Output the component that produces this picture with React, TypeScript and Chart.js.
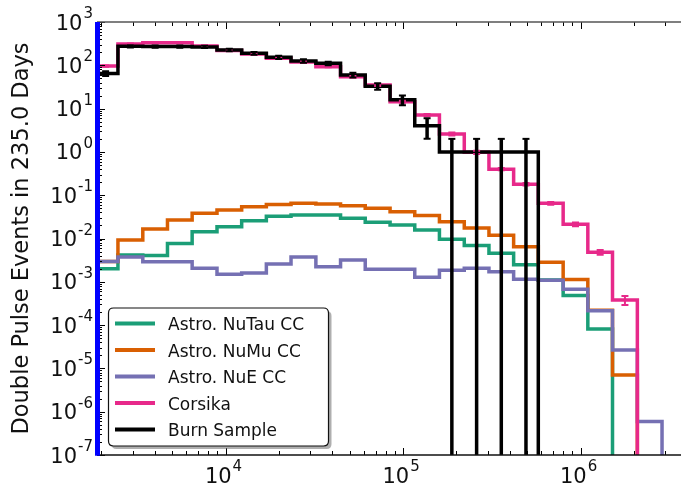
import { useEffect, useRef } from "react";
import { Chart, registerables } from "chart.js";

Chart.register(...registerables);

const FONT = "'DejaVu Sans', 'Liberation Sans', sans-serif";

// log10 of the histogram bin edges in reconstructed energy (GeV)
const BIN_EDGES_LOG10 = [
  3.255, 3.394, 3.534, 3.673, 3.812, 3.952, 4.091, 4.23, 4.369, 4.509, 4.648, 4.787, 4.927,
  5.066, 5.205, 5.345, 5.484, 5.623, 5.762, 5.902, 6.041, 6.18, 6.32, 6.459, 6.598,
];

// axis ranges
const X_MIN = 1888;
const X_MAX = 3.68e6;
const Y_MIN = 1e-7;
const Y_MAX = 1e3;
const Y_DECADES = [-7, -6, -5, -4, -3, -2, -1, 0, 1, 2, 3];
const X_DECADES = [4, 5, 6];

// expected / observed events per bin, starting at the first bin edge
const NUTAU_CC = [
  2.0e-3, 4.15e-3, 4.05e-3, 7.7e-3, 0.0144, 0.0187, 0.0258, 0.0326, 0.0349, 0.035, 0.0292,
  0.0237, 0.0205, 0.0157, 0.0096, 0.0069, 0.00455, 0.00248, 0.0011, 4.8e-4, 8.1e-5,
];
const NUMU_CC = [
  2.94e-3, 9.2e-3, 0.0166, 0.0267, 0.0382, 0.0455, 0.0542, 0.061, 0.065, 0.0627, 0.0573,
  0.0498, 0.0416, 0.034, 0.0244, 0.0175, 0.0119, 0.00647, 0.00282, 0.00113, 2.2e-4, 7.0e-6,
];
const NUE_CC = [
  2.95e-3, 3.74e-3, 2.91e-3, 2.91e-3, 2.05e-3, 1.49e-3, 1.6e-3, 2.58e-3, 3.74e-3, 2.23e-3,
  3.18e-3, 1.95e-3, 1.95e-3, 1.27e-3, 1.84e-3, 2.05e-3, 1.71e-3, 1.15e-3, 1.08e-3, 6.7e-4,
  2.15e-4, 2.66e-5, 5.9e-7,
];
const CORSIKA = [
  96, 310, 333, 333, 280, 220, 182, 145, 119, 93, 54.5, 35, 14.4, 7.1, 2.59, 0.98, 0.4, 0.179,
  0.065, 0.0213, 0.0048, 3.8e-4,
];
const CORSIKA_ERR = [
  3, 9, 9, 9, 8, 6.5, 5.5, 4.5, 3.8, 3.2, 2.2, 1.6, 0.8, 0.45, 0.2, 0.08, 0.025, 0.012, 0.005,
  0.002, 0.0006, 9e-5,
];
const BURN_SAMPLE = [65, 275, 272, 270, 266, 225, 189, 153, 126, 111, 60, 33, 16, 4, 1, 1, 1, 1];
const BURN_SAMPLE_ERR = [
  8.1, 16.6, 16.5, 16.4, 16.3, 15.0, 13.7, 12.4, 11.2, 10.5, 7.7, 5.7, 4.0, 2.0, 1, 1, 1, 1,
];

const SERIES = [
  { label: "Astro. NuTau CC", values: NUTAU_CC, color: "#1b9e77", order: 5 },
  { label: "Astro. NuMu CC", values: NUMU_CC, color: "#d95f02", order: 4 },
  { label: "Astro. NuE CC", values: NUE_CC, color: "#7570b3", order: 3 },
  { label: "Corsika", values: CORSIKA, color: "#e7298a", order: 2 },
  { label: "Burn Sample", values: BURN_SAMPLE, color: "#000000", order: 1 },
];

// step outline of a histogram, dropping to the baseline at both ends
function stepPoints(values: number[]) {
  const pts: { x: number; y: number }[] = [];
  const n = values.length;
  pts.push({ x: 10 ** BIN_EDGES_LOG10[0], y: Y_MIN });
  for (let i = 0; i < n; i++) pts.push({ x: 10 ** BIN_EDGES_LOG10[i], y: values[i] });
  pts.push({ x: 10 ** BIN_EDGES_LOG10[n], y: values[n - 1] });
  pts.push({ x: 10 ** BIN_EDGES_LOG10[n], y: Y_MIN });
  return pts;
}

function drawPower(
  ctx: CanvasRenderingContext2D,
  exp: number,
  x: number,
  baseline: number,
  align: "right" | "center"
) {
  const main = "10";
  const sup = exp < 0 ? "-" + Math.abs(exp) : String(exp);
  const mainFont = `21px ${FONT}`;
  const supFont = `15px ${FONT}`;
  ctx.font = mainFont;
  const wm = ctx.measureText(main).width;
  ctx.font = supFont;
  const ws = ctx.measureText(sup).width;
  const total = wm + 1 + ws;
  const left = align === "right" ? x - total : x - total / 2 - 2;
  ctx.textAlign = "left";
  ctx.textBaseline = "alphabetic";
  ctx.fillStyle = "#111";
  ctx.font = mainFont;
  ctx.fillText(main, left, baseline);
  ctx.font = supFont;
  ctx.fillText(sup, left + wm + 1, baseline - 11.5);
}

const framePlugin = {
  id: "frame",
  afterDatasetsDraw(chart: any) {
    const { ctx, chartArea: a } = chart;
    const xs = chart.scales.x;
    const ys = chart.scales.y;
    ctx.save();
    ctx.beginPath();
    ctx.rect(a.left, a.top, a.right - a.left, a.bottom - a.top);
    ctx.clip();
    const drawErrors = (vals: number[], errs: number[], color: string, width: number) => {
      ctx.strokeStyle = color;
      vals.forEach((v, i) => {
        const xc = xs.getPixelForValue(10 ** ((BIN_EDGES_LOG10[i] + BIN_EDGES_LOG10[i + 1]) / 2));
        const hi = ys.getPixelForValue(v + errs[i]);
        const lowVal = v - errs[i];
        const lo = lowVal > 0 ? ys.getPixelForValue(lowVal) : a.bottom + 4;
        ctx.lineWidth = width;
        ctx.beginPath();
        ctx.moveTo(xc, hi);
        ctx.lineTo(xc, lo);
        ctx.stroke();
        ctx.lineWidth = 2;
        ctx.beginPath();
        ctx.moveTo(xc - 3.5, hi);
        ctx.lineTo(xc + 3.5, hi);
        if (lowVal > 0) {
          ctx.moveTo(xc - 3.5, lo);
          ctx.lineTo(xc + 3.5, lo);
        }
        ctx.stroke();
      });
    };
    drawErrors(CORSIKA, CORSIKA_ERR, "#e7298a", 2);
    drawErrors(BURN_SAMPLE, BURN_SAMPLE_ERR, "#000", 3.5);
    ctx.restore();
  },
  afterDraw(chart: any) {
    const { ctx, chartArea: a } = chart;
    const xs = chart.scales.x;
    const ys = chart.scales.y;
    ctx.save();

    // inward tick marks
    ctx.strokeStyle = "#000";
    ctx.lineWidth = 1;
    ctx.beginPath();
    for (let p = -7; p <= 3; p++) {
      for (let m = 1; m <= 9; m++) {
        const v = m * 10 ** p;
        if (v < Y_MIN * 0.999 || v > Y_MAX * 1.001) continue;
        const py = Math.round(ys.getPixelForValue(v)) + 0.5;
        const len = m === 1 ? 8 : 5;
        ctx.moveTo(a.left, py);
        ctx.lineTo(a.left + len, py);
      }
    }
    for (let p = 3; p <= 6; p++) {
      for (let m = 1; m <= 9; m++) {
        const v = m * 10 ** p;
        if (v < X_MIN || v > X_MAX) continue;
        const px = Math.round(xs.getPixelForValue(v)) + 0.5;
        const len = m === 1 ? 7 : 4;
        ctx.moveTo(px, a.bottom);
        ctx.lineTo(px, a.bottom - len);
        ctx.moveTo(px, a.top);
        ctx.lineTo(px, a.top + len);
      }
    }
    ctx.stroke();

    // spines
    ctx.lineWidth = 1.5;
    ctx.strokeStyle = "#555";
    ctx.beginPath();
    ctx.moveTo(a.left, a.top);
    ctx.lineTo(a.right, a.top);
    ctx.stroke();
    ctx.strokeStyle = "#111";
    ctx.beginPath();
    ctx.moveTo(a.left, a.bottom);
    ctx.lineTo(a.right, a.bottom);
    ctx.stroke();
    ctx.strokeStyle = "#0000ff";
    ctx.lineWidth = 5;
    ctx.beginPath();
    ctx.moveTo(a.left + 0.5, a.top);
    ctx.lineTo(a.left + 0.5, a.bottom + 0.75);
    ctx.stroke();

    // tick labels
    Y_DECADES.forEach((p) => {
      const py = ys.getPixelForValue(10 ** p);
      drawPower(ctx, p, a.left - 4, py + 7.5, "right");
    });
    X_DECADES.forEach((p) => {
      const px = xs.getPixelForValue(10 ** p);
      drawPower(ctx, p, px, a.bottom + 27.5, "center");
    });

    // legend
    const box = { x: 108.5, y: 308, w: 220, h: 138 };
    const r = 5;
    const roundRect = (x: number, y: number) => {
      ctx.beginPath();
      ctx.moveTo(x + r, y);
      ctx.lineTo(x + box.w - r, y);
      ctx.quadraticCurveTo(x + box.w, y, x + box.w, y + r);
      ctx.lineTo(x + box.w, y + box.h - r);
      ctx.quadraticCurveTo(x + box.w, y + box.h, x + box.w - r, y + box.h);
      ctx.lineTo(x + r, y + box.h);
      ctx.quadraticCurveTo(x, y + box.h, x, y + box.h - r);
      ctx.lineTo(x, y + r);
      ctx.quadraticCurveTo(x, y, x + r, y);
      ctx.closePath();
    };
    roundRect(box.x + 3, box.y + 3);
    ctx.fillStyle = "rgba(110,110,110,0.55)";
    ctx.fill();
    roundRect(box.x, box.y);
    ctx.fillStyle = "#fff";
    ctx.fill();
    ctx.lineWidth = 1.2;
    ctx.strokeStyle = "#111";
    ctx.stroke();

    ctx.font = `17px ${FONT}`;
    ctx.textAlign = "left";
    ctx.textBaseline = "alphabetic";
    chart.data.datasets.forEach((ds: any, i: number) => {
      const rowY = 323.5 + i * 26.5;
      ctx.strokeStyle = ds.borderColor;
      ctx.lineWidth = 4;
      ctx.beginPath();
      ctx.moveTo(115, rowY);
      ctx.lineTo(155, rowY);
      ctx.stroke();
      ctx.fillStyle = "#111";
      ctx.fillText(ds.label, 168, rowY + 6.5);
    });
    ctx.restore();
  },
};

export default function App() {
  const canvasRef = useRef<HTMLCanvasElement>(null);

  useEffect(() => {
    const canvas = canvasRef.current;
    if (!canvas) return;
    const chart = new Chart(canvas, {
      type: "line",
      data: {
        datasets: SERIES.map((s) => ({
          label: s.label,
          data: stepPoints(s.values),
          borderColor: s.color,
          backgroundColor: s.color,
          borderWidth: 3.5,
          stepped: "before",
          fill: false,
          pointRadius: 0,
          order: s.order,
          clip: 0,
          borderJoinStyle: "miter",
          borderCapStyle: "butt",
        })),
      },
      options: {
        animation: false,
        responsive: false,
        devicePixelRatio: 1,
        layout: { padding: { top: 22, right: 0, bottom: 0, left: 0 } },
        plugins: { legend: { display: false }, tooltip: { enabled: false } },
        scales: {
          x: {
            type: "logarithmic",
            min: X_MIN,
            max: X_MAX,
            grid: { display: false, drawTicks: false },
            border: { display: false },
            ticks: { display: false },
            afterFit: (scale: any) => {
              scale.height = 31;
            },
          },
          y: {
            type: "logarithmic",
            min: Y_MIN,
            max: Y_MAX,
            grid: { display: false, drawTicks: false },
            border: { display: false },
            ticks: { display: false },
            title: {
              display: true,
              text: "Double Pulse Events in 235.0 Days",
              color: "#111",
              font: { family: FONT, size: 22.5 },
              padding: { top: 9, bottom: 0 },
            },
            afterFit: (scale: any) => {
              scale.width = 97;
            },
          },
        },
      } as any,
      plugins: [framePlugin],
    });
    return () => chart.destroy();
  }, []);

  return (
    <div
      style={{
        position: "fixed",
        left: 0,
        top: 0,
        width: 681,
        height: 486,
        background: "#fff",
      }}
    >
      <canvas ref={canvasRef} width={681} height={486} style={{ display: "block" }} />
    </div>
  );
}
